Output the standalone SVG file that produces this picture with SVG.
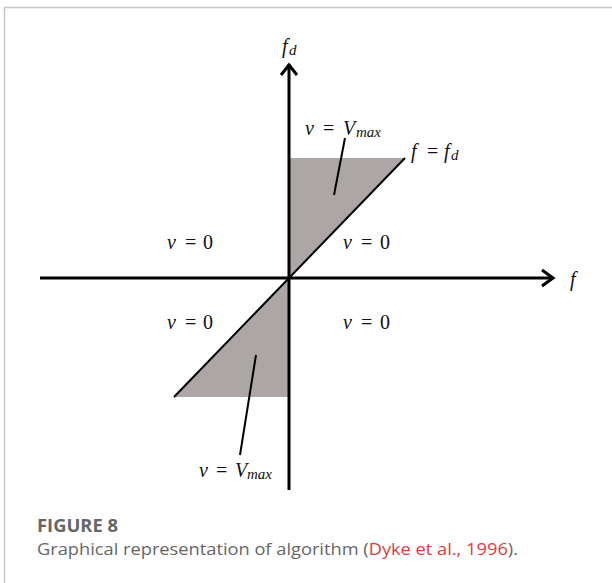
<svg xmlns="http://www.w3.org/2000/svg" width="612" height="583" viewBox="0 0 612 583">
<style>
.m{font-family:"Liberation Serif","DejaVu Serif",serif;font-style:italic;font-size:20px;fill:#111}
.u{font-style:normal}
.s{font-size:15px}
.ax{stroke:#000;stroke-width:3;fill:none}
.ln{stroke:#000;stroke-width:2;fill:none}
.sh{fill:#aca6a6}
.cap{font-family:"Open Sans","Lato","Liberation Sans",sans-serif;fill:#666}
</style>
<rect width="612" height="583" fill="#fff"/>
<path d="M4.5 583V7.5H612" stroke="#c8c8c8" stroke-width="1.5" fill="none"/>
<g id="regions">
<polygon class="sh" points="289,158 405,158 289,278"/>
<polygon class="sh" points="289,278 174,397 289,397"/>
</g>
<g id="connectors">
<line class="ax" x1="289" y1="64" x2="289" y2="490"/>
<line class="ax" x1="40" y1="278" x2="553" y2="278"/>
<path class="ax" d="M281 75L289 65L297 75" stroke-width="3.5"/>
<path class="ax" d="M542 270L553 278L542 286" stroke-width="3.5"/>
<line class="ln" x1="174" y1="397" x2="405" y2="158"/>
<line class="ln" x1="345" y1="138" x2="334" y2="195"/>
<line class="ln" x1="256" y1="355" x2="240" y2="455"/>
</g>
<g id="labels">
<text class="m" x="282" y="53">f<tspan class="s" x="289" dy="2">d</tspan></text>
<text class="m" x="570" y="286">f</text>
<text class="m" y="135"><tspan x="305">v</tspan><tspan class="u" x="323">=</tspan><tspan x="343">V</tspan><tspan class="s" x="356" dy="2">max</tspan></text>
<text class="m" y="158"><tspan x="411">f</tspan><tspan class="u" x="427">=</tspan><tspan x="444">f</tspan><tspan class="s" x="451" dy="2">d</tspan></text>
<text class="m" y="249"><tspan x="167">v</tspan><tspan class="u" x="185">=</tspan><tspan class="u" x="203">0</tspan></text>
<text class="m" y="249"><tspan x="343">v</tspan><tspan class="u" x="361">=</tspan><tspan class="u" x="380">0</tspan></text>
<text class="m" y="329"><tspan x="167">v</tspan><tspan class="u" x="185">=</tspan><tspan class="u" x="203">0</tspan></text>
<text class="m" y="329"><tspan x="343">v</tspan><tspan class="u" x="361">=</tspan><tspan class="u" x="380">0</tspan></text>
<text class="m" y="477"><tspan x="199">v</tspan><tspan class="u" x="216">=</tspan><tspan x="235">V</tspan><tspan class="s" x="247" dy="2">max</tspan></text>
</g>
<g id="caption">
<text class="cap" x="37" y="532" font-size="17" font-weight="bold" fill="#6b6b6b" textLength="81" lengthAdjust="spacingAndGlyphs">FIGURE 8</text>
<text class="cap" x="37" y="555" font-size="16" textLength="481" lengthAdjust="spacingAndGlyphs">Graphical representation of algorithm (<tspan fill="#e03a3e">Dyke et al., 1996</tspan>).</text>
</g>
</svg>
